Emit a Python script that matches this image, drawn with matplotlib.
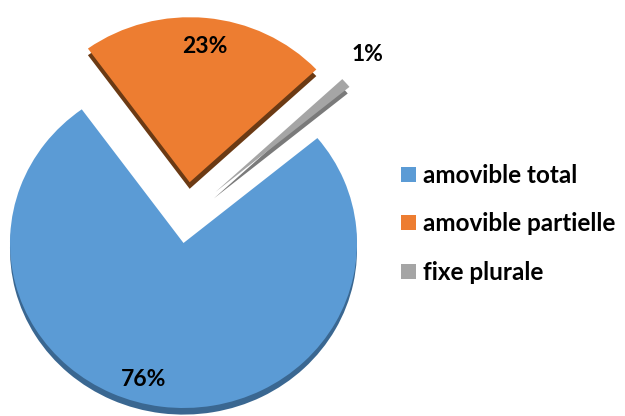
import numpy as np
import matplotlib
matplotlib.use('Agg')
from matplotlib import pyplot as plt

labels = ['amovible total', 'amovible partielle', 'fixe plurale']
values = [76, 23, 1]
colors = ['#5B9BD5', '#ED7D31', '#A5A5A5']
side_colors = ['#3A6791', '#6B3A14', '#7A7A7A']
explode = [0, 0.37, 0.36]

plt.rcParams['font.family'] = ['Lato', 'DejaVu Sans']
plt.rcParams['font.weight'] = 'bold'

fig = plt.figure(figsize=(6.25, 4.16), dpi=100)
ax = fig.add_axes([0, 0, 1, 1])

depth = 0.04
start = 39.5

# side faces (fake 3d depth), drawn first
side, _ = ax.pie(values, colors=side_colors, explode=explode, startangle=start,
                 counterclock=False, center=(0, -depth),
                 wedgeprops=dict(linewidth=0))
top, _, pcts = ax.pie(values, colors=colors, explode=explode, startangle=start,
                      counterclock=False, autopct='%1.0f%%', pctdistance=0.85,
                      wedgeprops=dict(linewidth=0),
                      textprops=dict(fontsize=16.5, fontweight='bold', color='black'))

# the thin slice sits a bit higher than a plain explode puts it
gray_shift = np.array([0.185, 0.31])
side[2].set_center(gray_shift + [-0.01, -depth])
top[2].set_center(gray_shift)

# label placement roughly like the original
pcts[0].set_position((-0.23, -0.83))
pcts[1].set_position((0.12, 1.19))
pcts[2].set_position((1.06, 1.14))

ax.set_aspect('auto')
ax.set_xlim(-183.5 / 173.5, (625 - 183.5) / 173.5)
ax.set_ylim(-(416 - 243) / 165, 243 / 165)
ax.axis('off')

ax.legend(top, labels, loc='center left', bbox_to_anchor=(0.642, 0.462),
          bbox_transform=fig.transFigure, frameon=False,
          prop=dict(size=17.5, weight='bold'), labelspacing=1.05,
          handlelength=0.6, handleheight=0.6, handletextpad=0.3,
          borderpad=0, borderaxespad=0)

fig.savefig('out.png', dpi=100)
